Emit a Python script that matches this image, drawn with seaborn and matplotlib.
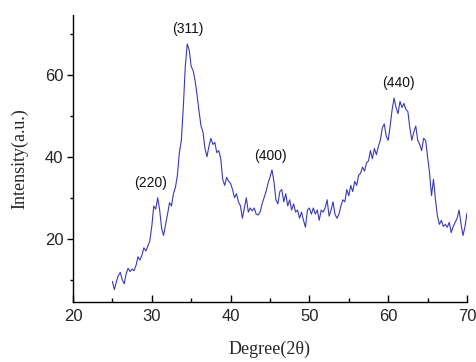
import numpy as np
import pandas as pd
import matplotlib
matplotlib.use("Agg")
import matplotlib.pyplot as plt
import seaborn as sns
from matplotlib.ticker import MultipleLocator

# ---- data ----
two_theta = [25.0 + 0.25 * i for i in range(181)]
intensity = [
    9.6, 7.6, 9.5, 11.0, 11.8, 10.0, 9.0, 11.5, 12.8, 12.0,
    12.6, 12.2, 13.5, 15.6, 14.8, 16.0, 17.8, 17.0, 18.2, 19.5,
    23.0, 28.0, 27.2, 30.0, 27.0, 22.5, 20.8, 23.5, 26.0, 28.8,
    28.0, 31.0, 32.5, 35.5, 41.0, 44.0, 52.0, 62.0, 67.5, 66.0,
    62.0, 61.0, 58.5, 55.0, 51.0, 47.5, 46.0, 42.0, 40.0, 42.5,
    44.5, 43.0, 43.5, 41.0, 41.5, 39.5, 34.5, 33.0, 35.0, 34.0,
    33.5, 32.0, 30.0, 31.0, 29.0, 28.0, 25.0, 27.5, 30.0, 26.5,
    27.5, 26.8, 27.5, 26.0, 25.8, 26.5, 28.5, 30.0, 31.5, 33.5,
    35.0, 36.8, 34.0, 29.5, 28.5, 31.5, 32.0, 29.0, 31.0, 28.0,
    29.5, 27.0, 28.5, 26.5, 27.0, 25.0, 26.5, 24.5, 22.8, 27.0,
    27.5, 26.0, 27.5, 26.0, 27.0, 24.5, 27.0, 26.5, 27.5, 29.5,
    25.5, 27.0, 29.0, 26.0, 25.0, 26.0, 28.0, 29.5, 29.0, 32.0,
    30.5, 33.0, 31.5, 34.0, 33.0, 35.5, 36.0, 37.5, 36.5, 38.5,
    39.0, 41.5, 39.5, 42.0, 40.5, 42.5, 44.0, 47.0, 48.0, 45.0,
    44.0, 47.5, 51.5, 54.3, 52.0, 50.5, 53.5, 52.0, 53.0, 51.5,
    51.0, 47.0, 44.0, 46.0, 47.5, 44.0, 43.0, 41.5, 44.5, 44.0,
    40.0, 36.0, 30.5, 34.5, 29.5, 25.5, 23.5, 24.5, 23.0, 23.5,
    22.8, 24.0, 21.5, 23.0, 24.0, 25.0, 27.0, 23.5, 20.8, 23.0,
    26.3,
]
peak_labels = ["(220)", "(311)", "(400)", "(440)"]
peak_x = [29.9, 34.6, 45.1, 61.3]
peak_y = [33.7, 71.2, 40.2, 58.1]

df = pd.DataFrame({"two_theta": two_theta, "intensity": intensity})

sns.set_theme(style="white")
plt.rcParams["font.family"] = ["Liberation Sans", "DejaVu Sans"]

fig = plt.figure(figsize=(4.77, 3.62), dpi=100)
ax = fig.add_axes([0.153, 0.166, 0.826, 0.793])

sns.lineplot(data=df, x="two_theta", y="intensity", ax=ax,
             color="#3a3ab8", linewidth=0.8)

for lab, px, py in zip(peak_labels, peak_x, peak_y):
    ax.text(px, py, lab, ha="center", va="center", fontsize=10, color="#111111")

ax.set_xlim(20, 70)
ax.set_ylim(4.6, 74.6)
ax.xaxis.set_major_locator(MultipleLocator(10))
ax.xaxis.set_minor_locator(MultipleLocator(5))
ax.yaxis.set_major_locator(MultipleLocator(20))
ax.yaxis.set_minor_locator(MultipleLocator(10))
ax.set_yticks([20, 40, 60])
ax.tick_params(axis="x", which="major", direction="in", length=5, width=1,
               labelsize=12, pad=5, color="black", bottom=True)
ax.tick_params(axis="x", which="minor", direction="in", length=3, width=1,
               color="black", bottom=True)
ax.tick_params(axis="y", which="major", direction="out", length=4, width=1,
               labelsize=12, pad=3, color="black", left=True)
ax.tick_params(axis="y", which="minor", direction="out", length=2.5, width=1,
               color="black", left=True)

for s in ["top", "right"]:
    ax.spines[s].set_visible(False)
for s in ["left", "bottom"]:
    ax.spines[s].set_color("black")
    ax.spines[s].set_linewidth(1.0)

ax.set_xlabel("Degree(2θ)", fontsize=13, family=["Liberation Serif", "DejaVu Serif"], labelpad=12)
ax.set_ylabel("Intensity(a.u.)", fontsize=13, family=["Liberation Serif", "DejaVu Serif"], labelpad=12)

fig.savefig("out.png", dpi=100)
